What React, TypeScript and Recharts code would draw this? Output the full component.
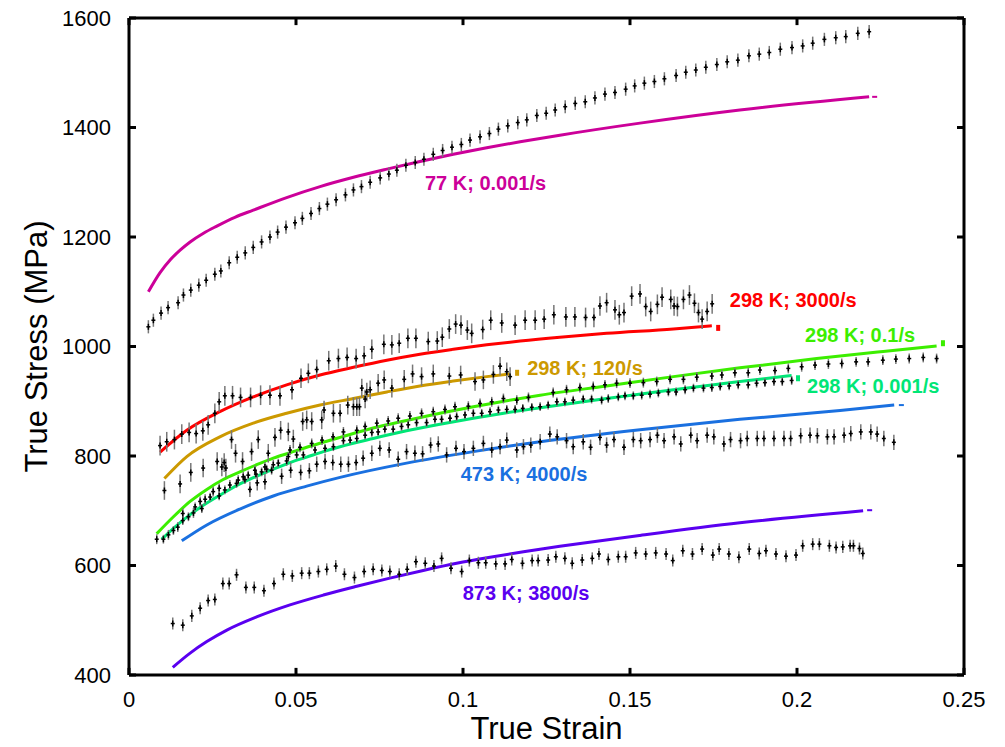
import React from 'react';
import { ComposedChart, Line, Scatter, XAxis, YAxis, ErrorBar, ReferenceLine } from 'recharts';

const FONT = '"Liberation Sans", Arial, Helvetica, sans-serif';

// axis ticks
const strainTicks = [0, 0.05, 0.1, 0.15, 0.2, 0.25];
const stressTicks = [400, 600, 800, 1000, 1200, 1400, 1600];

// measured points: [true strain, true stress (MPa)]
const exp77K: [number, number][] = [
  [0.0058, 1036], [0.0073, 1048], [0.0096, 1061], [0.0117, 1071], [0.0147, 1080], [0.0163, 1094],
  [0.0185, 1103], [0.0209, 1112], [0.0231, 1121], [0.0257, 1132], [0.0275, 1138], [0.03, 1153],
  [0.0324, 1163], [0.0348, 1171], [0.0372, 1181], [0.0397, 1191], [0.0422, 1200], [0.0445, 1209],
  [0.047, 1218], [0.0497, 1226], [0.0519, 1234], [0.0545, 1243], [0.057, 1252], [0.0594, 1260],
  [0.062, 1268], [0.0648, 1277], [0.0672, 1286], [0.0696, 1292], [0.0722, 1300], [0.0752, 1308],
  [0.0778, 1315], [0.0802, 1322], [0.0829, 1331], [0.0857, 1336], [0.0883, 1342], [0.0911, 1351],
  [0.0939, 1358], [0.0967, 1364], [0.0995, 1369], [0.1021, 1377], [0.1051, 1383], [0.1079, 1389],
  [0.1106, 1397], [0.1134, 1403], [0.1164, 1409], [0.1191, 1414], [0.1221, 1422], [0.1249, 1426],
  [0.1276, 1432], [0.1306, 1438], [0.1336, 1444], [0.1366, 1447], [0.1395, 1454], [0.1425, 1461],
  [0.1455, 1464], [0.1487, 1470], [0.1514, 1476], [0.1543, 1481], [0.1573, 1484], [0.1603, 1489],
  [0.1638, 1495], [0.1667, 1501], [0.1697, 1505], [0.1727, 1510], [0.176, 1515], [0.1791, 1520],
  [0.1823, 1523], [0.1856, 1531], [0.1887, 1534], [0.1917, 1537], [0.195, 1543], [0.1985, 1546],
  [0.2017, 1549], [0.2047, 1554], [0.2082, 1561], [0.2116, 1564], [0.2146, 1566], [0.2182, 1572],
  [0.2216, 1575],
];

const exp298K_3000: [number, number][] = [
  [0.0093, 819], [0.0113, 826], [0.0136, 830], [0.0158, 840], [0.018, 843], [0.0201, 841],
  [0.0221, 846], [0.0237, 857], [0.0257, 878], [0.027, 899], [0.0287, 910], [0.031, 910],
  [0.0334, 907], [0.0364, 907], [0.0394, 911], [0.0422, 911], [0.0452, 910], [0.0488, 921],
  [0.0515, 942], [0.0537, 951], [0.0562, 958], [0.0598, 974], [0.0627, 978], [0.0653, 980],
  [0.068, 978], [0.0704, 983], [0.0727, 995], [0.0763, 1004], [0.0787, 1003], [0.0809, 1006],
  [0.0835, 1015], [0.0859, 1015], [0.0896, 1009], [0.0923, 1010], [0.0938, 1017], [0.0959, 1032],
  [0.0978, 1041], [0.0994, 1039], [0.1013, 1030], [0.1026, 1024], [0.1059, 1031], [0.1083, 1048],
  [0.1116, 1043], [0.1156, 1039], [0.1186, 1048], [0.1216, 1048], [0.1243, 1050], [0.1272, 1058],
  [0.1308, 1054], [0.1335, 1054], [0.1367, 1053], [0.1392, 1053], [0.141, 1074], [0.143, 1080],
  [0.1455, 1067], [0.1468, 1058], [0.1482, 1062], [0.1505, 1092], [0.153, 1096], [0.1547, 1073],
  [0.1562, 1064], [0.1582, 1077], [0.1596, 1090], [0.1622, 1086], [0.1632, 1074], [0.1642, 1073],
  [0.166, 1086], [0.1678, 1094], [0.1693, 1079], [0.1705, 1062], [0.1716, 1050], [0.1731, 1064],
  [0.1746, 1078],
];

const exp298K_120: [number, number][] = [
  [0.0106, 737], [0.0153, 749], [0.0185, 770], [0.0222, 778], [0.0264, 790], [0.0278, 780],
  [0.0285, 788], [0.029, 778], [0.0307, 830], [0.0319, 805], [0.034, 790], [0.0367, 808],
  [0.0387, 830], [0.0417, 805], [0.0437, 834], [0.0454, 847], [0.0477, 844], [0.0492, 831],
  [0.052, 863], [0.0532, 866], [0.0547, 863], [0.0577, 866], [0.0584, 884], [0.0612, 878],
  [0.0632, 878], [0.0655, 893], [0.0672, 890], [0.0682, 890], [0.069, 890], [0.0697, 924],
  [0.0707, 904], [0.0712, 917], [0.0722, 921], [0.0746, 933], [0.0764, 939], [0.0787, 924],
  [0.0824, 940], [0.0849, 950], [0.0876, 945], [0.0911, 950], [0.0959, 946], [0.0993, 948],
  [0.1036, 936], [0.1061, 939], [0.1091, 949], [0.1111, 964], [0.1131, 954], [0.1141, 945],
];

const exp298K_01: [number, number][] = [
  [0.0083, 648], [0.0118, 656], [0.0146, 670], [0.0161, 695], [0.0193, 696], [0.0213, 717],
  [0.0228, 721], [0.0252, 735], [0.027, 741], [0.0302, 747], [0.0327, 756], [0.0342, 762],
  [0.0377, 774], [0.0407, 780], [0.0432, 784], [0.0472, 791], [0.0482, 811], [0.0512, 816],
  [0.0547, 823], [0.0578, 829], [0.0611, 835], [0.0642, 844], [0.0682, 847], [0.0707, 854],
  [0.0742, 860], [0.0776, 864], [0.0806, 869], [0.0841, 873], [0.0876, 878], [0.0911, 881],
  [0.0946, 885], [0.0976, 890], [0.1016, 891], [0.1051, 896], [0.1086, 899], [0.1121, 905],
  [0.1161, 902], [0.1196, 907], [0.127, 916], [0.131, 921], [0.135, 925], [0.139, 927],
  [0.1425, 930], [0.146, 933], [0.15, 933], [0.154, 934], [0.158, 936], [0.162, 940],
  [0.166, 940], [0.17, 944], [0.1745, 946], [0.1775, 948], [0.1814, 952], [0.1854, 952],
  [0.1889, 957], [0.1934, 956], [0.1974, 960], [0.2014, 963], [0.2054, 966], [0.2094, 968],
  [0.2134, 969], [0.2177, 972], [0.2213, 972], [0.2257, 975], [0.2296, 977], [0.2336, 978],
  [0.2378, 980], [0.2418, 978],
];

const exp298K_0001: [number, number][] = [
  [0.0103, 648], [0.0133, 664], [0.0161, 682], [0.0178, 689], [0.0198, 707], [0.0218, 704],
  [0.0243, 725], [0.027, 727], [0.0287, 738], [0.0322, 750], [0.0347, 757], [0.0357, 765],
  [0.038, 767], [0.0397, 771], [0.0412, 776], [0.0427, 774], [0.0447, 787], [0.0477, 799],
  [0.0502, 802], [0.0522, 802], [0.0557, 811], [0.0587, 814], [0.0612, 817], [0.0642, 828],
  [0.0662, 829], [0.0682, 832], [0.0707, 838], [0.0727, 843], [0.0746, 844], [0.0766, 849],
  [0.0791, 849], [0.0816, 854], [0.0836, 857], [0.0861, 861], [0.0891, 861], [0.0916, 867],
  [0.0936, 867], [0.0961, 869], [0.0981, 872], [0.1006, 875], [0.1031, 878], [0.1056, 878],
  [0.1081, 881], [0.1106, 884], [0.1131, 885], [0.1156, 885], [0.1179, 887], [0.1206, 889],
  [0.1231, 890], [0.1255, 893], [0.1281, 899], [0.1305, 899], [0.133, 902], [0.136, 904],
  [0.1385, 904], [0.1415, 902], [0.1435, 905], [0.1465, 908], [0.1485, 910], [0.151, 910],
  [0.1535, 911], [0.156, 913], [0.1585, 915], [0.1615, 917], [0.1638, 917], [0.1665, 921],
  [0.169, 924], [0.172, 924], [0.1745, 925], [0.177, 927], [0.1797, 928], [0.1824, 930],
  [0.1854, 930], [0.1879, 933], [0.1904, 934], [0.1931, 936], [0.1956, 936], [0.1984, 938],
];

const exp473K_4000: [number, number][] = [
  [0.0362, 739], [0.0384, 751], [0.0407, 753], [0.0457, 763], [0.0484, 774], [0.0514, 770],
  [0.054, 773], [0.0562, 785], [0.0587, 790], [0.061, 788], [0.0634, 785], [0.0657, 785],
  [0.068, 788], [0.0701, 796], [0.0727, 805], [0.0751, 814], [0.0779, 811], [0.0806, 794],
  [0.0831, 808], [0.0856, 805], [0.0879, 804], [0.0903, 820], [0.0926, 822], [0.0951, 802],
  [0.0979, 814], [0.1003, 808], [0.1031, 814], [0.1061, 823], [0.1086, 811], [0.1111, 817],
  [0.1131, 829], [0.1161, 811], [0.1181, 817], [0.1203, 820], [0.1231, 826], [0.126, 840],
  [0.1282, 835], [0.131, 828], [0.133, 817], [0.136, 826], [0.1382, 816], [0.141, 834],
  [0.143, 820], [0.1452, 830], [0.1482, 816], [0.151, 830], [0.1532, 828], [0.156, 830],
  [0.1582, 838], [0.1602, 828], [0.1632, 835], [0.1652, 822], [0.1682, 838], [0.1701, 828],
  [0.1731, 838], [0.1751, 835], [0.1781, 822], [0.1801, 830], [0.1831, 828], [0.1851, 832],
  [0.1881, 832], [0.1901, 832], [0.1931, 832], [0.1961, 832], [0.1981, 832], [0.2011, 837],
  [0.2039, 838], [0.2061, 837], [0.2091, 835], [0.2111, 835], [0.2141, 838], [0.2161, 841],
  [0.2191, 844], [0.2221, 844], [0.224, 840], [0.226, 832], [0.229, 825],
];

const exp873K_3800: [number, number][] = [
  [0.0131, 494], [0.0161, 491], [0.0188, 508], [0.0213, 522], [0.0237, 536], [0.0257, 538],
  [0.0281, 567], [0.03, 567], [0.0322, 583], [0.035, 560], [0.0375, 560], [0.0404, 554],
  [0.0434, 567], [0.0462, 584], [0.0489, 581], [0.0517, 586], [0.054, 586], [0.0567, 589],
  [0.0592, 593], [0.0619, 599], [0.0645, 584], [0.0675, 578], [0.0704, 589], [0.0731, 593],
  [0.0757, 591], [0.0781, 589], [0.0809, 584], [0.0833, 593], [0.0859, 607], [0.0887, 604],
  [0.0913, 599], [0.0936, 613], [0.0964, 595], [0.0996, 589], [0.1019, 609], [0.1046, 605],
  [0.1068, 605], [0.1098, 603], [0.1126, 603], [0.1146, 611], [0.1178, 604], [0.1207, 609],
  [0.1225, 609], [0.1255, 610], [0.1278, 616], [0.1305, 613], [0.1327, 604], [0.1357, 610],
  [0.1387, 613], [0.1407, 621], [0.1435, 611], [0.1465, 616], [0.1487, 616], [0.1517, 623],
  [0.1547, 621], [0.1577, 623], [0.1608, 621], [0.1628, 609], [0.1658, 627], [0.1687, 621],
  [0.1716, 630], [0.1748, 619], [0.1767, 630], [0.1796, 621], [0.1826, 615], [0.1857, 630],
  [0.1887, 622], [0.1907, 627], [0.1937, 621], [0.1967, 617], [0.1997, 619], [0.2017, 636],
  [0.2047, 639], [0.2067, 639], [0.2097, 636], [0.2117, 633], [0.2137, 634], [0.2159, 636],
  [0.2169, 636], [0.2187, 631], [0.2197, 622],
];

// model curves: [true strain, true stress (MPa)]
const fit77K: [number, number][] = [
  [0.0058, 1100], [0.0093, 1135], [0.0123, 1158], [0.0153, 1176], [0.0183, 1191], [0.0223, 1207],
  [0.0263, 1220], [0.0317, 1236], [0.0372, 1249], [0.0472, 1272], [0.0572, 1292], [0.0672, 1309],
  [0.0772, 1324], [0.0871, 1338], [0.0971, 1351], [0.1071, 1363], [0.1171, 1374], [0.129, 1386],
  [0.153, 1408], [0.1829, 1432], [0.2216, 1456],
];
const fit298K_3000: [number, number][] = [
  [0.0093, 807], [0.0173, 847], [0.0272, 881], [0.0372, 908], [0.0472, 930], [0.0572, 948],
  [0.0672, 962], [0.0772, 975], [0.0871, 986], [0.0971, 995], [0.1071, 1003], [0.1171, 1010],
  [0.129, 1017], [0.143, 1024], [0.163, 1032], [0.1745, 1038],
];
const fit298K_120: [number, number][] = [
  [0.0106, 759], [0.0173, 799], [0.0272, 835], [0.0372, 860], [0.0472, 878], [0.0572, 893],
  [0.0672, 905], [0.0772, 917], [0.0871, 928], [0.0971, 937], [0.1071, 945], [0.1141, 950],
];
const fit298K_01: [number, number][] = [
  [0.0083, 658], [0.0133, 689], [0.0183, 717], [0.0233, 739], [0.0282, 757], [0.0332, 771],
  [0.0382, 784], [0.0432, 796], [0.0482, 806], [0.0532, 816], [0.0592, 827], [0.0632, 834],
  [0.0731, 851], [0.0831, 865], [0.0931, 878], [0.1031, 890], [0.1131, 901], [0.1231, 911],
  [0.143, 928], [0.163, 945], [0.1829, 961], [0.2059, 978], [0.2258, 991], [0.2418, 1001],
];
const fit298K_0001: [number, number][] = [
  [0.0098, 648], [0.0133, 668], [0.0183, 693], [0.0233, 714], [0.0282, 732], [0.0332, 749],
  [0.0382, 763], [0.0432, 776], [0.0482, 788], [0.0532, 798], [0.0582, 808], [0.0632, 817],
  [0.0731, 832], [0.0831, 846], [0.0931, 858], [0.1031, 869], [0.1131, 879], [0.1231, 888],
  [0.143, 905], [0.163, 921], [0.1829, 936], [0.1984, 947],
];
const fit473K_4000: [number, number][] = [
  [0.0158, 645], [0.0233, 674], [0.0332, 703], [0.0432, 727], [0.0532, 745], [0.0632, 761],
  [0.0831, 787], [0.1031, 808], [0.1231, 826], [0.153, 848], [0.1829, 867], [0.2129, 883],
  [0.2291, 893],
];
const fit873K_3800: [number, number][] = [
  [0.0131, 414], [0.0183, 440], [0.0233, 461], [0.0293, 482], [0.0382, 506], [0.0482, 528],
  [0.0582, 546], [0.0682, 562], [0.0781, 577], [0.0881, 591], [0.0981, 604], [0.1081, 615],
  [0.1181, 625], [0.129, 635], [0.153, 655], [0.1829, 678], [0.2198, 700],
];

// detached end pieces just past each curve's last point, same order as colors
const endPieceAt: [number, number][] = [
  [0.2234, 1456], [0.1764, 1034], [0.2437, 1006], [0.1162, 952], [0.2003, 942], [0.2314, 893], [0.2219, 701],
];
const endPieceSquare = [false, true, true, true, true, false, false];

// curve labels: [strain, stress] of the left end, text, colour
const labelNames = ['77 K; 0.001/s', '298 K; 3000/s', '298 K; 0.1/s', '298 K; 120/s', '298 K; 0.001/s', '473 K; 4000/s', '873 K; 3800/s'];
const labelAt: [number, number][] = [
  [0.0886, 1299], [0.1799, 1085], [0.2024, 1021], [0.1192, 960], [0.203, 927], [0.0993, 767], [0.0999, 549],
];
const colors = ['#CC0099', '#FF0000', '#3CEE00', '#CC9900', '#00E676', '#1A70E0', '#5A00F0'];

const toPts = (arr: [number, number][], err = 0) => arr.map(([x, y]) => ({ x, y, err }));

const measured = [
  { name: '77 K; 0.001/s', data: toPts(exp77K, 12) },
  { name: '298 K; 3000/s', data: toPts(exp298K_3000, 18) },
  { name: '298 K; 120/s', data: toPts(exp298K_120, 17) },
  { name: '298 K; 0.1/s', data: toPts(exp298K_01, 9) },
  { name: '298 K; 0.001/s', data: toPts(exp298K_0001, 8) },
  { name: '473 K; 4000/s', data: toPts(exp473K_4000, 14) },
  { name: '873 K; 3800/s', data: toPts(exp873K_3800, 11) },
];

const fits = [
  { name: 'fit 77 K', data: toPts(fit77K), color: colors[0] },
  { name: 'fit 298 K 3000', data: toPts(fit298K_3000), color: colors[1] },
  { name: 'fit 298 K 0.1', data: toPts(fit298K_01), color: colors[2] },
  { name: 'fit 298 K 120', data: toPts(fit298K_120), color: colors[3] },
  { name: 'fit 298 K 0.001', data: toPts(fit298K_0001), color: colors[4] },
  { name: 'fit 473 K', data: toPts(fit473K_4000), color: colors[5] },
  { name: 'fit 873 K', data: toPts(fit873K_3800), color: colors[6] },
];

const labels = labelNames.map((text, i) => ({ x: labelAt[i][0], y: labelAt[i][1], text, color: colors[i] }));
const endPieces = endPieceAt.map(([x, y], i) => ({ x, y, color: colors[i], square: endPieceSquare[i] }));

// inward tick length in axis units (~7 px)
const tickStrain = 0.0021;
const tickStress = 13;

// small black cross used for each measured point
const PointMark = (props: any) => {
  const { cx, cy } = props;
  if (cx == null || cy == null) return null;
  return (
    <g>
      <line x1={cx} x2={cx} y1={cy - 3} y2={cy + 3} stroke="#000" strokeWidth={1.5} />
      <line x1={cx - 2} x2={cx + 2} y1={cy} y2={cy} stroke="#000" strokeWidth={1.5} />
    </g>
  );
};

const EndPiece = (props: any) => {
  const { cx, cy, payload } = props;
  if (payload.square) return <rect x={cx - 2} y={cy - 3} width={4} height={6} fill={payload.color} />;
  return <rect x={cx - 3} y={cy - 1} width={5} height={2} fill={payload.color} />;
};

const LabelMark = (props: any) => {
  const { cx, cy, payload } = props;
  return (
    <text x={cx} y={cy} fill={payload.color} fontSize={20} fontWeight="bold" fontFamily={FONT} dominantBaseline="central">
      {payload.text}
    </text>
  );
};

const frame = { stroke: '#000', strokeWidth: 3 };

const App = () => {
  return (
    <div style={{ position: 'absolute', left: 0, top: 0 }}>
      <ComposedChart width={1000} height={747} margin={{ top: 18, right: 36, bottom: 0, left: 0 }}>
        <XAxis
          type="number"
          dataKey="x"
          domain={[0, 0.25]}
          ticks={strainTicks}
          height={72}
          tickSize={0}
          tickLine={false}
          tickMargin={16}
          axisLine={frame}
          tick={{ fontSize: 22, fill: '#000', fontFamily: FONT }}
          label={{
            content: (p: any) => {
              const vb = p.viewBox;
              return (
                <text x={vb.x + vb.width / 2} y={vb.y + vb.height - 8} textAnchor="middle" fontSize={31} fontFamily={FONT} fill="#000">
                  True Strain
                </text>
              );
            },
          }}
        />
        <YAxis
          type="number"
          domain={[400, 1600]}
          ticks={stressTicks}
          width={129}
          tickSize={0}
          tickLine={false}
          tickMargin={18}
          axisLine={frame}
          tick={{ fontSize: 22, fill: '#000', fontFamily: FONT }}
          label={{
            content: (p: any) => {
              const vb = p.viewBox;
              const cx = vb.x + 36;
              const cy = vb.y + vb.height / 2;
              return (
                <text x={cx} y={cy} transform={`rotate(-90, ${cx}, ${cy})`} textAnchor="middle" dominantBaseline="central" fontSize={31} fontFamily={FONT} fill="#000">
                  True Stress (MPa)
                </text>
              );
            },
          }}
        />

        {/* frame: top and right edges */}
        <ReferenceLine y={1600} {...frame} />
        <ReferenceLine x={0.25} {...frame} />

        {/* inward ticks on all four sides */}
        {strainTicks.map((t) => (
          <ReferenceLine key={`xb${t}`} segment={[{ x: t, y: 400 }, { x: t, y: 400 + tickStress }]} {...frame} />
        ))}
        {strainTicks.map((t) => (
          <ReferenceLine key={`xt${t}`} segment={[{ x: t, y: 1600 }, { x: t, y: 1600 - tickStress }]} {...frame} />
        ))}
        {stressTicks.map((s) => (
          <ReferenceLine key={`yl${s}`} segment={[{ x: 0, y: s }, { x: tickStrain, y: s }]} {...frame} />
        ))}
        {stressTicks.map((s) => (
          <ReferenceLine key={`yr${s}`} segment={[{ x: 0.25, y: s }, { x: 0.25 - tickStrain, y: s }]} {...frame} />
        ))}

        {fits.map((f) => (
          <Line
            key={f.name}
            name={f.name}
            data={f.data}
            dataKey="y"
            type="monotone"
            stroke={f.color}
            strokeWidth={3}
            dot={false}
            activeDot={false}
            isAnimationActive={false}
          />
        ))}

        <Scatter name="curve ends" data={endPieces} dataKey="y" shape={<EndPiece />} isAnimationActive={false} />

        {measured.map((m) => (
          <Scatter key={m.name} name={m.name} data={m.data} dataKey="y" shape={<PointMark />} isAnimationActive={false}>
            <ErrorBar dataKey="err" direction="y" width={0} stroke="#777" strokeWidth={1.5} />
          </Scatter>
        ))}

        <Scatter name="labels" data={labels} dataKey="y" shape={<LabelMark />} isAnimationActive={false} />
      </ComposedChart>
    </div>
  );
};

export default App;
